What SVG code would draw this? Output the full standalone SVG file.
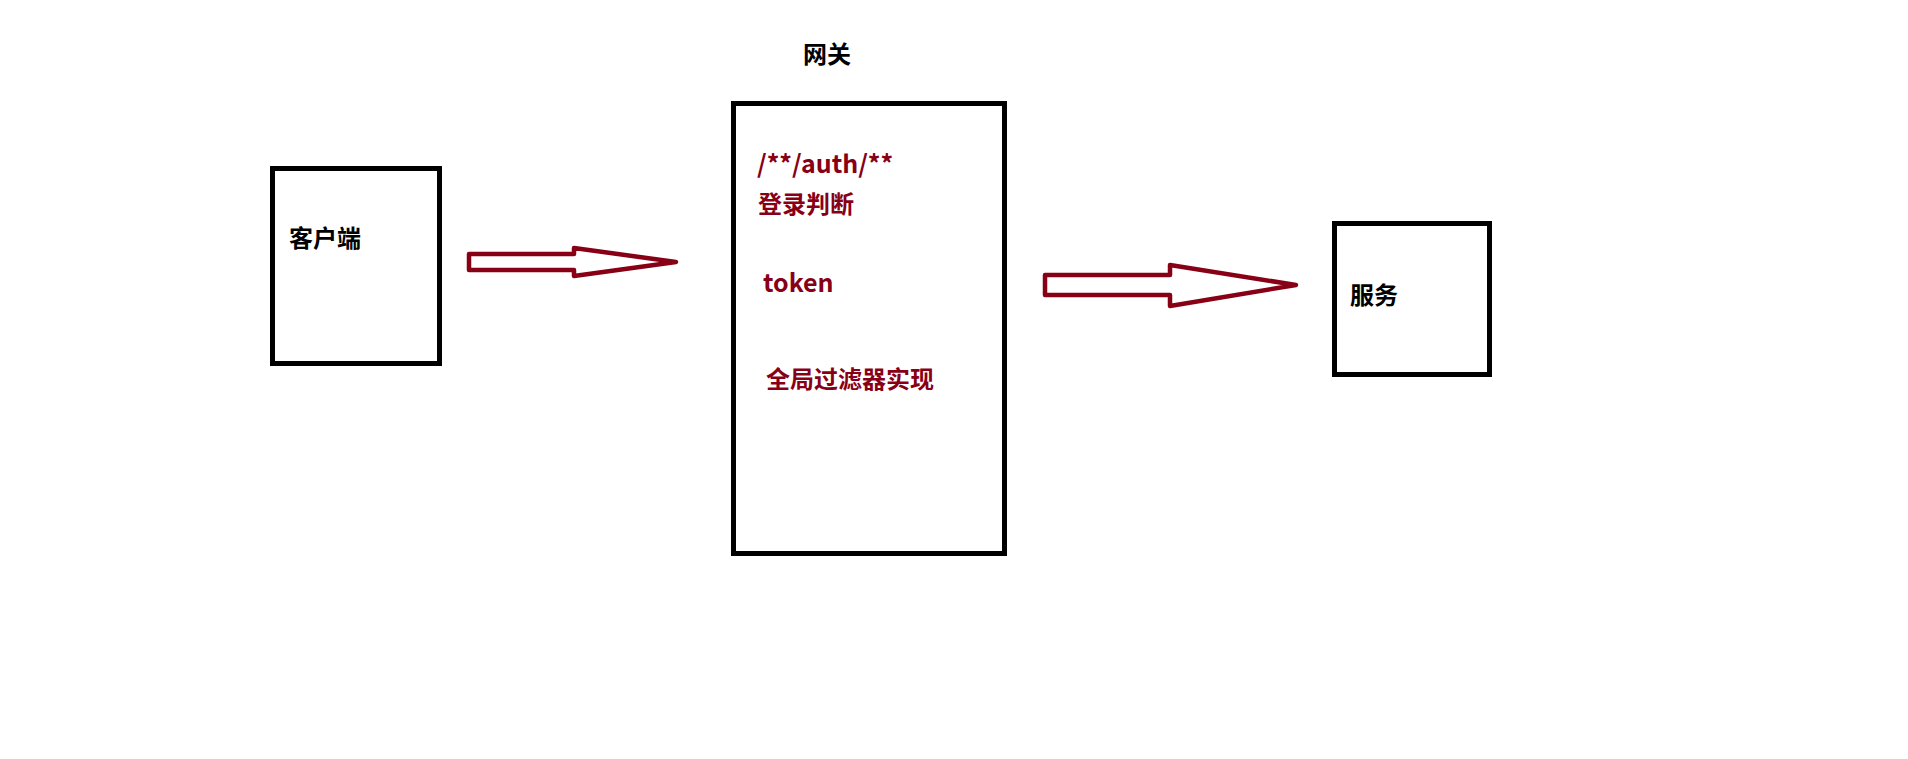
<svg xmlns="http://www.w3.org/2000/svg" width="1908" height="759" viewBox="0 0 1908 759">
<style>
.box{fill:#fff;stroke:#000;stroke-width:5}
.arrow{fill:#fff;stroke:#880015;stroke-width:4.5;stroke-linejoin:round}
text{font-family:"Noto Sans CJK SC","Noto Sans",sans-serif;font-weight:bold;font-size:24px}
.k{fill:#000}
.r{fill:#880015}
.lat{font-size:25px}
</style>
<rect width="1908" height="759" fill="#fff"/>
<g id="client">
<rect class="box" x="272.5" y="168.5" width="167" height="195"/>
<text class="k" x="289" y="247">客户端</text>
</g>
<g id="gateway">
<text class="k" x="803" y="63">网关</text>
<rect class="box" x="733.5" y="103.5" width="271" height="450"/>
<text class="r lat" x="757" y="173">/**/auth/**</text>
<text class="r" x="758" y="213">登录判断</text>
<text class="r lat" x="763" y="292">token</text>
<text class="r" x="766" y="388">全局过滤器实现</text>
</g>
<g id="service">
<rect class="box" x="1334.5" y="223.5" width="155" height="151"/>
<text class="k" x="1350" y="304">服务</text>
</g>
<g id="connectors">
<polygon class="arrow" points="469,254 574,254 574,248 676,262 574,276 574,270 469,270"/>
<polygon class="arrow" points="1045,275 1170,275 1170,265 1296,285 1170,306 1170,295 1045,295"/>
</g>
</svg>
